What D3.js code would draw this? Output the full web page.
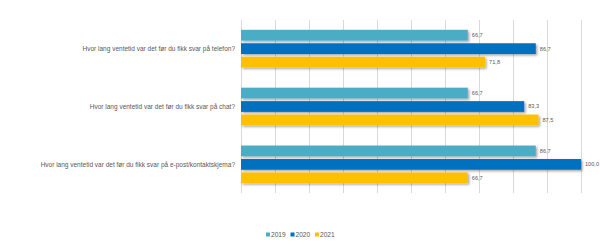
<!DOCTYPE html>
<html>
<head>
<meta charset="utf-8">
<script src="https://cdn.jsdelivr.net/npm/d3@7"></script>
<style>
  body { margin: 0; background: #fff; }
  svg text { font-family: "Liberation Sans", Arial, sans-serif; }
</style>
</head>
<body>
<div id="chart"></div>
<script>
var categories = [
  "Hvor lang ventetid var det før du fikk svar på telefon?",
  "Hvor lang ventetid var det før du fikk svar på chat?",
  "Hvor lang ventetid var det før du fikk svar på e-post/kontaktskjema?"
];
var years = ["2019", "2020", "2021"];
var values2019 = [66.7, 66.7, 86.7];
var values2020 = [86.7, 83.3, 100.0];
var values2021 = [71.8, 87.5, 66.7];
var colors = ["#4BACC6", "#0070C0", "#FFC000"];

var width = 600, height = 248;
var plotLeft = 241, plotRight = 581, plotTop = 20, plotBottom = 193;

var series = [values2019, values2020, values2021];

var svg = d3.select("#chart").append("svg")
  .attr("width", width)
  .attr("height", height);

var defs = svg.append("defs");
var filter = defs.append("filter").attr("id", "shadow")
  .attr("x", "-5%").attr("y", "-30%").attr("width", "115%").attr("height", "180%");
filter.append("feDropShadow")
  .attr("dx", 1.5).attr("dy", 1.5).attr("stdDeviation", 1)
  .attr("flood-color", "#000").attr("flood-opacity", 0.35);

var x = d3.scaleLinear().domain([0, 100]).range([plotLeft, plotRight]);
var y = d3.scaleBand().domain(categories).range([plotTop, plotBottom]).paddingInner(0.35).paddingOuter(0.17);
var ySub = d3.scaleBand().domain(years).range([0, y.bandwidth()]).paddingInner(0.2);

// gridlines
svg.append("g").selectAll("line")
  .data(x.ticks(10))
  .enter().append("line")
  .attr("x1", function(d) { return x(d) + 0.5; })
  .attr("x2", function(d) { return x(d) + 0.5; })
  .attr("y1", plotTop)
  .attr("y2", plotBottom)
  .attr("stroke", "#d9d9d9")
  .attr("stroke-width", 1);

// bars
var groups = svg.append("g").selectAll("g")
  .data(categories)
  .enter().append("g")
  .attr("transform", function(d) { return "translate(0," + y(d) + ")"; });

groups.each(function(cat, ci) {
  var g = d3.select(this);
  years.forEach(function(yr, si) {
    var v = series[si][ci];
    g.append("rect")
      .attr("x", x(0))
      .attr("y", ySub(yr))
      .attr("width", x(v) - x(0))
      .attr("height", ySub.bandwidth())
      .attr("fill", colors[si])
      .attr("filter", "url(#shadow)");
    g.append("text")
      .attr("x", x(v) + 4)
      .attr("y", ySub(yr) + ySub.bandwidth() / 2)
      .attr("dy", "0.35em")
      .attr("font-size", 5.6)
      .attr("fill", "#595959")
      .text(d3.format(".1f")(v).replace(".", ","));
  });
});

// category labels
svg.append("g").selectAll("text")
  .data(categories)
  .enter().append("text")
  .attr("x", plotLeft - 6)
  .attr("y", function(d) { return y(d) + y.bandwidth() / 2; })
  .attr("dy", "0.35em")
  .attr("text-anchor", "end")
  .attr("font-size", 6.5)
  .attr("fill", "#595959")
  .text(function(d) { return d; });

// legend
var legend = svg.append("g").attr("transform", "translate(266,235)");
var item = legend.selectAll("g")
  .data(years)
  .enter().append("g")
  .attr("transform", function(d, i) { return "translate(" + (i * 24.5) + ",0)"; });
item.append("rect")
  .attr("x", 0).attr("y", -2.5)
  .attr("width", 4).attr("height", 4)
  .attr("fill", function(d, i) { return colors[i]; });
item.append("text")
  .attr("x", 5).attr("y", 0)
  .attr("dy", "0.35em")
  .attr("font-size", 6.6)
  .attr("fill", "#595959")
  .text(function(d) { return d; });
</script>
</body>
</html>
